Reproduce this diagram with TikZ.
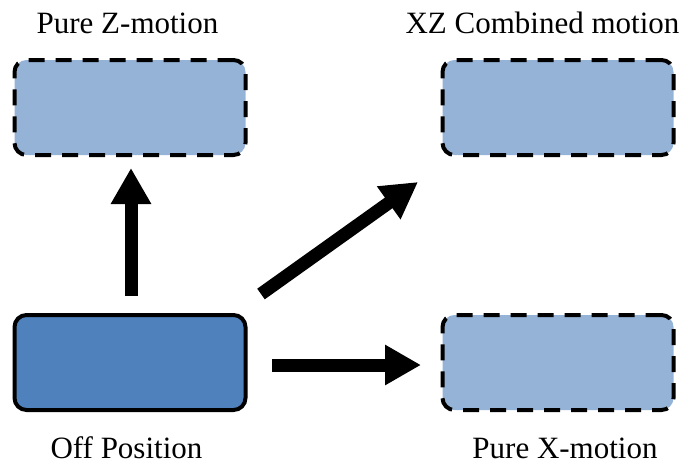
\documentclass[tikz,border=0pt]{standalone}
\usepackage{fontspec}
\setmainfont{Liberation Serif}
\usetikzlibrary{arrows.meta}
\definecolor{lightbox}{HTML}{95B3D7}
\definecolor{darkbox}{HTML}{4F81BD}
\begin{document}
\begin{tikzpicture}[x=1pt,y=-1pt,
  motionbox/.style={draw=black,line width=4pt,rounded corners=12pt,
    minimum width=231pt,minimum height=95pt,inner sep=0pt},
  target/.style={motionbox,fill=lightbox,dash pattern=on 16pt off 11pt},
  start/.style={motionbox,fill=darkbox},
  caption/.style={font=\fontsize{31}{36}\selectfont,anchor=base,inner sep=0pt},
  bigarrow/.style={line width=13pt,-{Triangle[width=38pt,length=36pt]}}]
\useasboundingbox (0,0) rectangle (690,466);
\node[target] (z)  at (130,107.5) {};
\node[target] (xz) at (558,107.5) {};
\node[start]  (off) at (130,362.5) {};
\node[target] (x)  at (558,362.5) {};
\node[caption] (lz) at (127.5,33) {Pure Z-motion};
\node[caption] (lxz) at (542.5,33) {XZ Combined motion};
\node[caption] (loff) at (126.5,458) {Off Position};
\node[caption] (lx) at (565,458) {Pure X-motion};
\coordinate (upA) at (131,296);
\coordinate (upB) at (131,168);
\coordinate (dgA) at (261,294);
\coordinate (dgB) at (418,182);
\coordinate (hzA) at (272,365);
\coordinate (hzB) at (421,365);
\draw[bigarrow] (upA) -- (upB);
\draw[bigarrow] (dgA) -- (dgB);
\draw[bigarrow] (hzA) -- (hzB);
\end{tikzpicture}
\end{document}
